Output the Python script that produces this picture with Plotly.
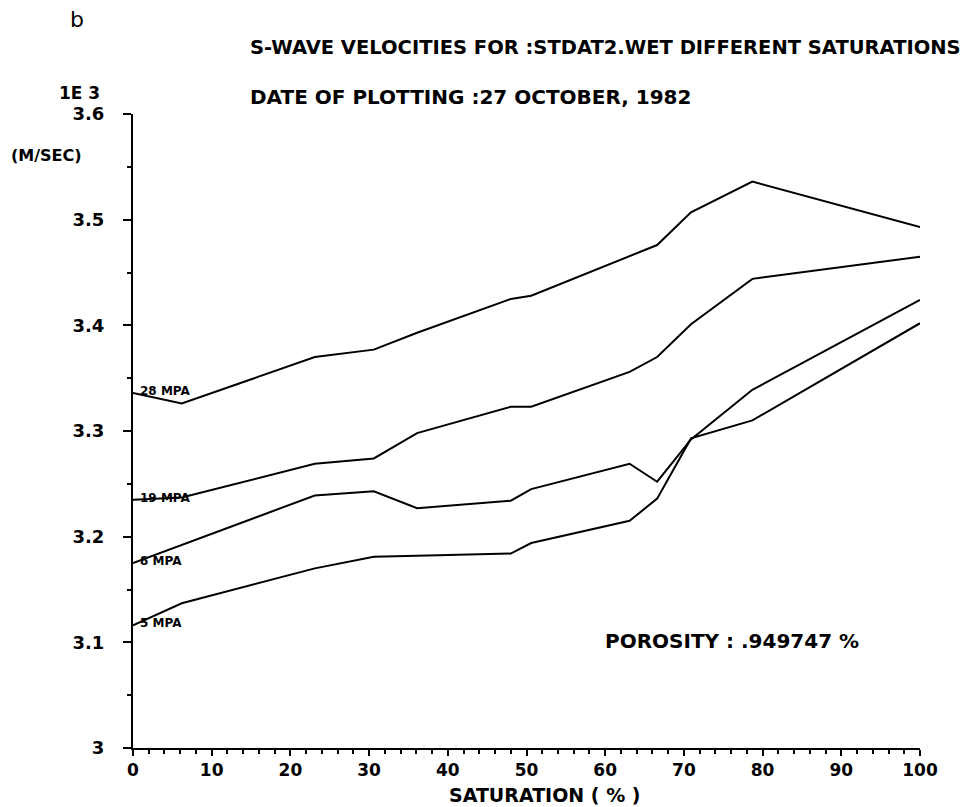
import plotly.graph_objects as go

# saturation (%) where the curves have their vertices
saturation = [0, 6.2, 23.1, 30.6, 36.1, 48.0, 50.6, 63.1, 66.6, 70.9, 78.7, 100]

# S-wave velocity in 1E3 m/sec for each confining pressure
vel_28mpa = [3.336, 3.326, 3.370, 3.377, 3.393, 3.425, 3.428, 3.465, 3.476, 3.507, 3.536, 3.493]
vel_19mpa = [3.235, 3.237, 3.269, 3.274, 3.298, 3.323, 3.323, 3.356, 3.370, 3.401, 3.444, 3.465]
vel_8mpa = [3.175, 3.192, 3.239, 3.243, 3.227, 3.234, 3.245, 3.269, 3.252, 3.292, 3.339, 3.424]
vel_5mpa = [3.116, 3.137, 3.170, 3.181, 3.182, 3.184, 3.194, 3.215, 3.236, 3.293, 3.310, 3.402]

curve_names = ['28 MPA', '19 MPA', '8 MPA', '5 MPA']
curves = [vel_28mpa, vel_19mpa, vel_8mpa, vel_5mpa]

x_ticks = [0, 10, 20, 30, 40, 50, 60, 70, 80, 90, 100]
y_ticks = [3, 3.1, 3.2, 3.3, 3.4, 3.5, 3.6]
y_ticktext = ['3', '3.1', '3.2', '3.3', '3.4', '3.5', '3.6']

FONT = 'DejaVu Sans'

# page has an 8px body margin, so the plot box is placed to land at 133..920 x 114..748
PL, PR, PT, PB = 133, 920, 114, 748
OFF = 8

fig = go.Figure()

for name, v in zip(curve_names, curves):
    fig.add_trace(
        go.Scatter(
            x=saturation,
            y=v,
            mode='lines',
            line=dict(color='#000', width=2),
            name=name
        )
    )
    # pressure label sitting on the start of each curve
    fig.add_annotation(
        x=0, y=v[0], text=name, showarrow=False,
        xanchor='left', yanchor='middle', xshift=5, yshift=2,
        font=dict(family=FONT, size=12, color='#000', weight='bold')
    )

fig.update_layout(
    width=979,
    height=807,
    showlegend=False,
    plot_bgcolor='white',
    paper_bgcolor='white',
    margin=dict(l=PL - OFF, r=979 - (PR - OFF), t=PT - OFF, b=807 - (PB - OFF)),
    font=dict(family=FONT, color='#000'),
    xaxis=dict(
        range=[0, 100],
        tickvals=x_ticks,
        showgrid=False,
        zeroline=False,
        showline=True,
        linecolor='#000',
        linewidth=2,
        ticks='outside',
        ticklen=6,
        tickwidth=2,
        tickcolor='#000',
        ticklabelstandoff=0,
        minor=dict(dtick=2, ticks='outside', ticklen=4, tickwidth=1.5, tickcolor='#000'),
        tickfont=dict(family=FONT, size=17, weight='bold'),
    ),
    yaxis=dict(
        range=[3, 3.6],
        tickvals=y_ticks,
        ticktext=y_ticktext,
        showgrid=False,
        zeroline=False,
        showline=True,
        linecolor='#000',
        linewidth=2,
        ticks='outside',
        ticklen=8,
        tickwidth=2,
        tickcolor='#000',
        ticklabelstandoff=15,
        minor=dict(dtick=0.05, ticks='outside', ticklen=4, tickwidth=1.5, tickcolor='#000'),
        tickfont=dict(family=FONT, size=18, weight='bold'),
    ),
)

texts = [
    dict(text='b', x=68, y=19, size=22, weight='normal'),
    dict(text='S-WAVE VELOCITIES FOR :STDAT2.WET DIFFERENT SATURATIONS', x=248, y=47, size=19.5, weight='bold'),
    dict(text='DATE OF PLOTTING :27 OCTOBER, 1982', x=248, y=97, size=20, weight='bold'),
    dict(text='1E 3', x=57, y=93, size=17, weight='bold'),
    dict(text='(M/SEC)', x=9, y=155, size=16, weight='bold'),
    dict(text='SATURATION ( % )', x=447, y=795, size=19, weight='bold'),
    dict(text='POROSITY : .949747 %', x=603, y=641, size=20, weight='bold'),
]
for t in texts:
    fig.add_annotation(
        text=t['text'], xref='paper', yref='paper',
        x=(t['x'] - PL) / (PR - PL),
        y=(PB - t['y']) / (PB - PT),
        xanchor='left', yanchor='middle', showarrow=False,
        font=dict(family=FONT, size=t['size'], color='#000', weight=t['weight'])
    )

fig.write_html('out.html')
